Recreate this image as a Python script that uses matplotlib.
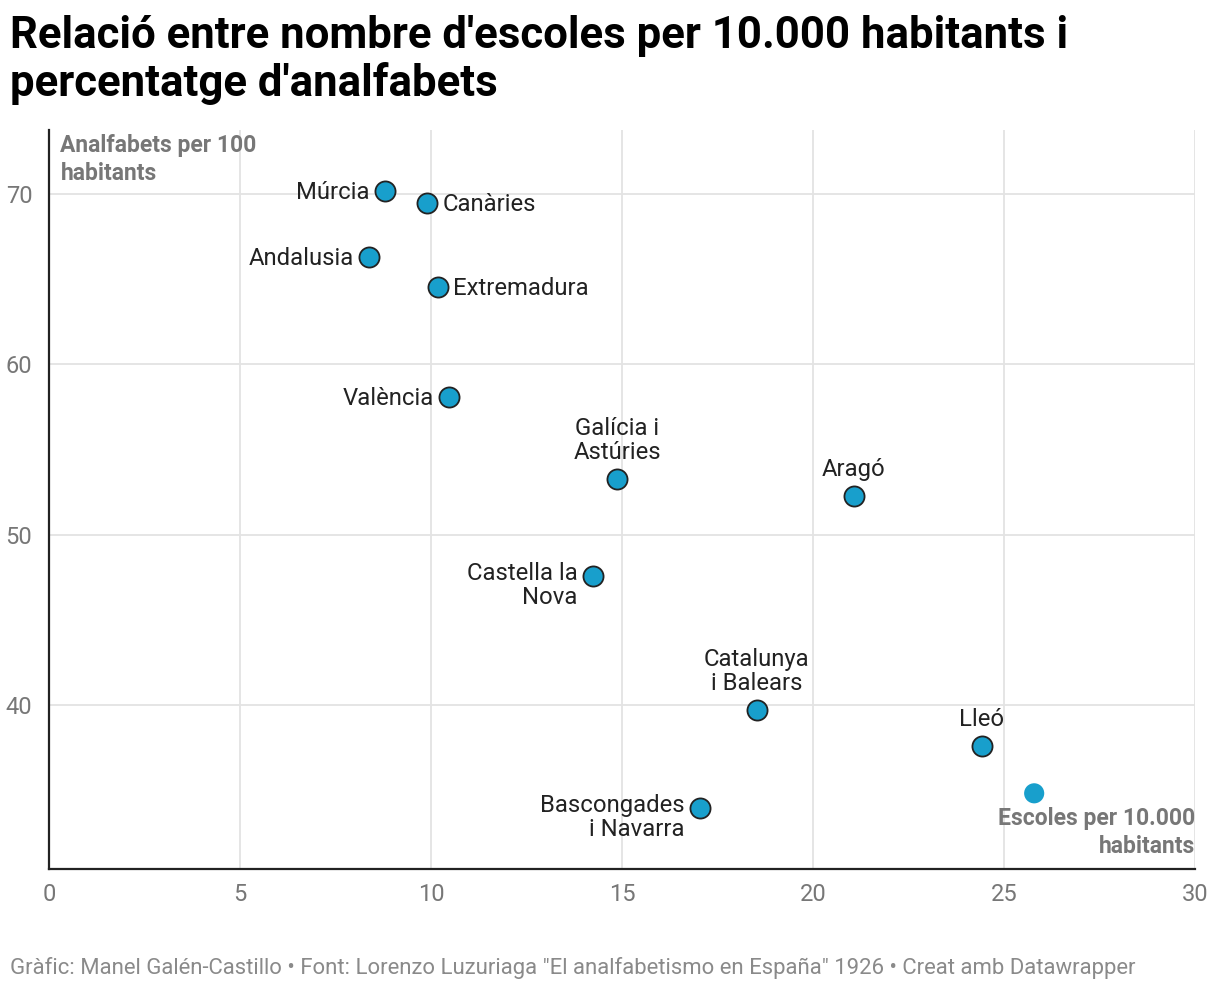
import matplotlib.pyplot as plt

plt.rcParams['font.family'] = ['Roboto', 'DejaVu Sans']

regions = ['Múrcia', 'Canàries', 'Andalusia', 'Extremadura', 'València',
           'Galícia i\nAstúries', 'Aragó', 'Castella la\nNova',
           'Catalunya\ni Balears', 'Lleó', 'Bascongades\ni Navarra']
escoles = [8.80, 9.90, 8.38, 10.18, 10.47, 14.87, 21.07, 14.24, 18.53, 24.42, 17.04]
analfabets = [70.18, 69.47, 66.3, 64.55, 58.1, 53.25, 52.26, 47.6, 39.7, 37.6, 34.0]
label_pos = ['left', 'right', 'left', 'right', 'left', 'above', 'above',
             'left', 'above', 'above', 'left']

extra_x = [25.79]
extra_y = [34.84]

blue = '#189fcc'
grey = '#777777'
lab_fs = 17.2

fig = plt.figure(figsize=(12.2, 10.06), dpi=100)
ax = fig.add_axes([49 / 1220, 137 / 1006, 1146 / 1220, 739 / 1006])

ax.scatter(escoles, analfabets, s=210, c=blue, edgecolors='#222222', linewidths=1.3, zorder=3)
ax.scatter(extra_x, extra_y, s=210, c=blue, edgecolors='none', zorder=3)

for name, x, y, pos in zip(regions, escoles, analfabets, label_pos):
    multi = '\n' in name
    if pos == 'left':
        ax.annotate(name, (x, y), xytext=(-11, 10 if multi else -1), textcoords='offset points',
                    ha='right', va='top' if multi else 'center',
                    fontsize=lab_fs, color='#222222', zorder=4, linespacing=1.05)
    elif pos == 'right':
        ax.annotate(name, (x, y), xytext=(11, -1), textcoords='offset points',
                    ha='left', va='center', fontsize=lab_fs, color='#222222', zorder=4)
    else:
        ax.annotate(name, (x, y), xytext=(0, 11), textcoords='offset points',
                    ha='center', va='bottom', fontsize=lab_fs, color='#222222',
                    zorder=4, linespacing=1.05)

ax.set_xlim(0, 30)
ax.set_ylim(30.4, 73.75)
ax.set_xticks([0, 5, 10, 15, 20, 25, 30])
ax.set_yticks([40, 50, 60, 70])
ax.grid(True, color='#e3e3e3', linewidth=1.3)
ax.set_axisbelow(True)
for s in ['top', 'right']:
    ax.spines[s].set_visible(False)
ax.spines['left'].set_color('#222222')
ax.spines['bottom'].set_color('#222222')
ax.spines['left'].set_linewidth(1.6)
ax.spines['bottom'].set_linewidth(1.6)
ax.tick_params(length=0, labelsize=17, colors=grey, pad=10)
ax.tick_params(axis='y', pad=12)

ax.text(0.01, 0.995, 'Analfabets per 100\nhabitants', transform=ax.transAxes,
        ha='left', va='top', fontsize=16.5, fontweight='bold', color=grey, linespacing=1.3)
ax.text(1.0, 0.015, 'Escoles per 10.000\nhabitants', transform=ax.transAxes,
        ha='right', va='bottom', fontsize=16.5, fontweight='bold', color=grey, linespacing=1.3)

fig.text(10 / 1220, 1 - 15 / 1006, "Relació entre nombre d'escoles per 10.000 habitants i\npercentatge d'analfabets",
         ha='left', va='top', fontsize=31.5, fontweight='bold', color='#000000', linespacing=1.15)
fig.text(10 / 1220, 1 - 968 / 1006,
         'Gràfic: Manel Galén-Castillo • Font: Lorenzo Luzuriaga "El analfabetismo en España" 1926 • Creat amb Datawrapper',
         ha='left', va='center', fontsize=15.9, color='#8a8a8a')

fig.savefig('out.png', dpi=100)
